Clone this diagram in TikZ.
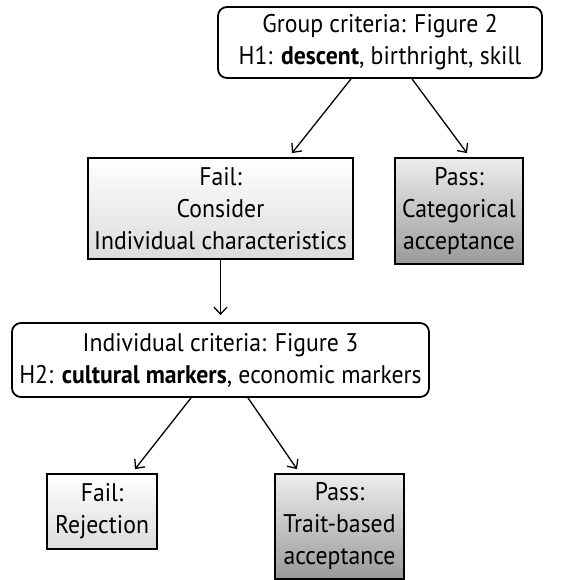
\documentclass[tikz,border=0pt]{standalone}
\usepackage{fontspec}
\setmainfont[FakeStretch=0.93]{PT Sans}
\usepackage{tikz}
\usetikzlibrary{arrows.meta,shapes}

\begin{document}
\begin{tikzpicture}
[x=1pt,y=1pt,font=\fontsize{25.5}{32}\selectfont]
\tikzset{
	crit/.style = {rectangle, rounded corners = 9, draw, line width = 1.8, fill = white, align = center, inner sep = 0},
	failbox/.style = {rectangle, draw, line width = 1.8, top color = white, bottom color = black!14, align = center, inner sep = 0},
	passbox/.style = {rectangle, draw, line width = 1.8, top color = black!7, bottom color = black!40, align = center, inner sep = 0},
	link/.style = {line width = 1.3, -{Straight Barb[length=7pt,width=13pt,line width=1.3pt]}}
}
\useasboundingbox (0,0) rectangle (586,-580);

\node(group) [crit, minimum width = 324, minimum height = 71] at (380,-42.5)
	{Group criteria: Figure 2\\H1: \textbf{descent}, birthright, skill};
\node(fail1) [failbox, minimum width = 265, minimum height = 101] at (220.5,-208.5)
	{Fail:\\Consider\\Individual characteristics};
\node(pass1) [passbox, minimum width = 128, minimum height = 106] at (459,-211)
	{Pass:\\Categorical\\acceptance};
\node(indiv) [crit, minimum width = 417, minimum height = 74] at (220.5,-360)
	{Individual criteria: Figure 3\\H2: \textbf{cultural markers}, economic markers};
\node(fail2) [failbox, minimum width = 110, minimum height = 75] at (102,-511.5)
	{Fail:\\Rejection};
\node(pass2) [passbox, minimum width = 129, minimum height = 105] at (339.5,-526.5)
	{Pass:\\Trait-based\\acceptance};

\draw [link] ([xshift=-29]group.south) -- ([xshift=71.5,yshift=4]fail1.north);
\draw [link] ([xshift=32]group.south) -- ([xshift=8,yshift=4]pass1.north);
\draw [link] (fail1.south) -- ([yshift=7]indiv.north);
\draw [link] ([xshift=-29.5]indiv.south) -- ([xshift=33,yshift=4]fail2.north);
\draw [link] ([xshift=27.5]indiv.south) -- ([xshift=-42.5,yshift=4]pass2.north);
\end{tikzpicture}
\end{document}
